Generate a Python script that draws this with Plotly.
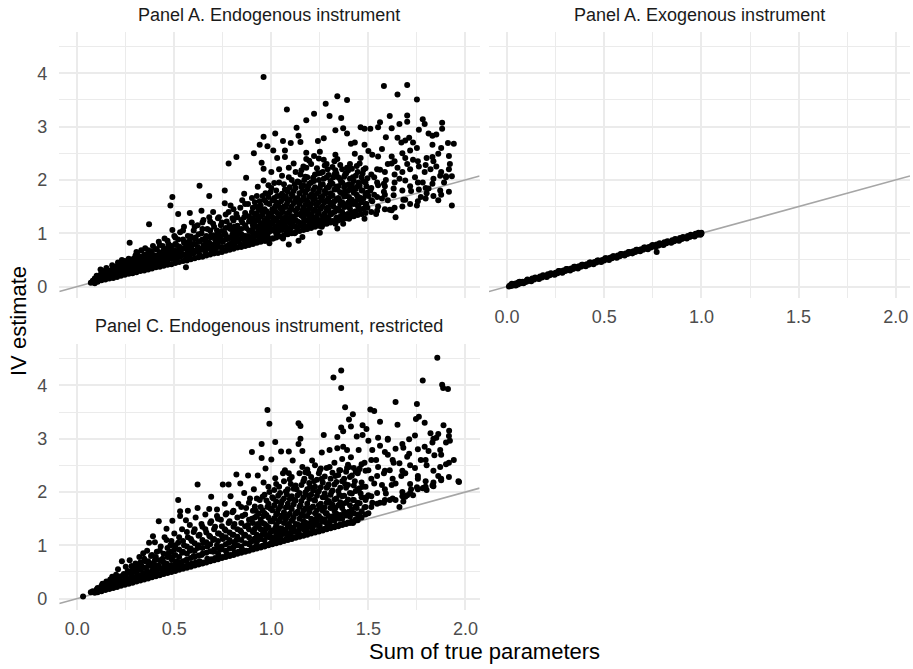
import plotly.graph_objects as go

# ---------------- data ----------------
# individually readable points
endo_pts = [
    (0.07,0.07),(0.08,0.11),(0.09,0.06),(0.09,0.15),(0.10,0.20),(0.10,0.10),(0.12,0.32),
    (0.11,0.14),(0.12,0.22),(0.13,0.18),(0.14,0.27),(0.15,0.20),(0.15,0.35),(0.16,0.24),(0.17,0.30),
    (0.17,0.19),(0.18,0.22),(0.18,0.40),(0.19,0.28),(0.19,0.25),(0.20,0.33),
    (0.21,0.24),(0.21,0.45),(0.22,0.30),(0.22,0.38),(0.23,0.27),(0.23,0.50),(0.24,0.34),(0.24,0.42),
    (0.25,0.29),(0.25,0.37),(0.26,0.31),(0.26,0.47),(0.27,0.82),(0.27,0.36),(0.28,0.40),(0.28,0.33),
    (0.29,0.52),(0.29,0.44),(0.30,0.36),(0.30,0.58),
    (0.31,0.35),(0.31,0.62),(0.32,0.42),(0.32,0.50),(0.33,0.38),(0.33,0.68),(0.34,0.45),(0.34,0.55),
    (0.35,0.40),(0.35,0.72),(0.36,0.48),(0.36,0.60),(0.37,1.17),(0.37,0.43),(0.37,0.52),(0.38,0.66),
    (0.38,0.47),(0.39,0.58),(0.39,0.76),(0.40,0.45),(0.40,0.53),
    (0.41,0.48),(0.41,0.70),(0.42,0.56),(0.42,0.84),(0.43,0.43),(0.43,0.62),(0.44,0.51),(0.44,0.76),
    (0.45,0.58),(0.45,0.90),(0.46,0.47),(0.46,0.66),(0.47,0.55),(0.47,0.80),(0.48,1.52),(0.48,0.62),
    (0.48,0.72),(0.49,1.68),(0.49,1.06),(0.49,0.52),(0.50,0.68),(0.50,0.95),(0.50,0.58),
    (0.51,0.50),(0.51,0.78),(0.52,1.36),(0.52,0.64),(0.52,0.88),(0.53,0.56),(0.53,1.02),(0.54,0.70),
    (0.54,0.60),(0.55,0.82),(0.55,1.12),(0.56,0.36),(0.56,0.53),(0.56,0.74),(0.57,0.95),(0.57,0.64),
    (0.58,1.38),(0.58,0.58),(0.58,0.86),(0.59,1.20),(0.59,0.70),(0.60,0.62),(0.60,0.80),(0.60,1.05),
    (0.61,0.66),(0.61,0.92),(0.62,0.74),(0.62,1.15),(0.63,0.60),(0.63,1.89),(0.63,0.85),(0.64,1.42),
    (0.64,0.70),(0.64,1.00),(0.65,0.78),(0.65,1.25),(0.66,0.64),(0.66,0.90),(0.67,0.72),(0.67,1.08),
    (0.68,1.70),(0.68,0.82),(0.68,1.30),(0.69,0.68),(0.69,0.96),(0.70,0.76),(0.70,1.18),(0.70,1.40),
    (0.71,0.70),(0.71,0.88),(0.72,1.05),(0.72,0.80),(0.73,1.30),(0.73,0.74),(0.74,0.94),(0.74,1.15),
    (0.75,0.68),(0.75,0.84),(0.76,1.80),(0.76,1.56),(0.76,1.00),(0.77,0.76),(0.77,1.22),(0.78,2.31),
    (0.78,0.90),(0.78,1.40),(0.79,1.52),(0.79,0.72),(0.79,1.08),(0.80,0.82),(0.80,0.98),(0.80,1.28),
    (0.81,0.78),(0.81,1.12),(0.82,2.43),(0.82,0.92),(0.82,1.36),(0.83,0.84),(0.83,1.05),(0.84,1.48),
    (0.84,0.80),(0.85,1.62),(0.85,0.96),(0.85,1.20),(0.86,1.74),(0.86,0.88),(0.86,1.30),(0.87,2.04),
    (0.87,0.78),(0.87,1.10),(0.88,1.55),(0.88,0.95),(0.89,1.25),(0.89,0.85),(0.90,1.40),(0.90,1.02),
    (0.90,1.66),
    (0.91,2.50),(0.91,0.88),(0.91,1.18),(0.92,1.50),(0.92,1.00),(0.93,1.87),(0.93,0.84),(0.93,1.32),
    (0.94,2.66),(0.94,1.10),(0.94,1.60),(0.95,2.32),(0.95,0.92),(0.95,1.42),(0.96,3.93),(0.96,2.81),
    (0.96,2.21),(0.96,1.99),(0.96,1.20),(0.97,0.86),(0.97,1.75),(0.97,1.05),(0.98,2.63),(0.98,1.28),
    (0.98,0.95),(0.99,1.55),(0.99,0.81),(0.99,1.12),(1.00,2.15),(1.00,1.38),(1.00,1.85),
    (1.01,2.55),(1.01,0.90),(1.01,1.22),(1.02,2.87),(1.02,1.50),(1.02,1.05),(1.03,2.41),(1.03,1.70),
    (1.03,0.96),(1.04,2.20),(1.04,1.32),(1.04,1.95),(1.05,1.12),(1.05,1.60),(1.06,2.73),(1.06,0.90),
    (1.06,1.40),(1.07,2.55),(1.07,2.43),(1.07,1.18),(1.07,1.82),(1.08,3.32),(1.08,1.02),(1.08,1.55),
    (1.09,2.23),(1.09,0.79),(1.09,1.28),(1.09,2.05),(1.10,2.69),(1.10,1.45),(1.10,1.10),
    (1.11,1.70),(1.11,1.20),(1.12,1.92),(1.12,1.00),(1.13,2.98),(1.13,1.35),(1.14,2.83),(1.14,0.86),
    (1.14,1.58),(1.15,2.71),(1.15,1.15),(1.15,2.10),(1.16,0.93),(1.16,1.42),(1.16,1.80),(1.17,1.25),
    (1.17,2.00),(1.18,3.12),(1.18,2.51),(1.18,2.39),(1.18,2.23),(1.18,1.08),(1.18,1.62),(1.19,1.35),
    (1.19,1.88),(1.20,1.15),(1.20,1.50),
    (1.21,1.72),(1.21,1.30),(1.22,3.24),(1.22,2.45),(1.22,1.98),(1.23,1.18),(1.23,1.55),(1.24,2.73),
    (1.24,1.40),(1.24,2.12),(1.25,2.53),(1.25,1.01),(1.25,1.85),(1.26,1.12),(1.26,1.62),(1.27,2.78),
    (1.27,2.38),(1.27,1.30),(1.27,2.02),(1.28,3.43),(1.28,1.24),(1.28,1.75),(1.29,1.48),(1.29,2.20),
    (1.30,3.20),(1.30,1.90),(1.30,1.58),
    (1.31,1.37),(1.31,1.70),(1.32,2.05),(1.32,1.50),(1.33,2.93),(1.33,2.47),(1.33,2.18),(1.33,1.18),
    (1.34,3.57),(1.34,2.39),(1.34,1.09),(1.34,1.82),(1.35,1.42),(1.35,1.62),(1.36,3.16),(1.36,1.95),
    (1.37,2.97),(1.37,1.18),(1.37,1.55),(1.38,1.78),(1.38,2.10),(1.39,3.50),(1.39,2.87),(1.39,2.23),
    (1.39,1.35),(1.40,1.27),(1.40,1.68),(1.40,1.92),
    (1.41,2.68),(1.41,1.55),(1.42,1.85),(1.42,2.05),(1.43,2.70),(1.43,2.49),(1.43,1.40),(1.44,2.26),
    (1.44,1.72),(1.45,1.49),(1.45,1.95),(1.46,2.99),(1.46,2.41),(1.46,1.62),(1.47,1.80),(1.47,2.12),
    (1.48,2.96),(1.48,2.66),(1.48,1.27),(1.49,1.55),(1.49,1.88),(1.50,2.54),(1.50,1.70),
    (1.51,2.96),(1.51,1.80),(1.52,1.60),(1.52,2.47),(1.53,2.05),(1.53,1.72),(1.54,1.36),(1.55,2.44),
    (1.55,2.99),(1.55,1.90),(1.55,1.50),(1.56,3.08),(1.56,2.19),(1.57,2.58),(1.57,1.65),(1.58,3.76),
    (1.58,1.93),(1.58,1.78),(1.59,2.80),(1.59,2.00),(1.60,1.62),(1.60,2.30),
    (1.61,3.20),(1.61,1.44),(1.62,2.31),(1.62,2.97),(1.62,2.44),(1.62,1.43),(1.63,1.84),(1.63,1.71),
    (1.64,1.30),(1.65,3.60),(1.65,2.23),(1.65,2.79),(1.66,3.05),(1.66,2.02),(1.67,2.70),(1.68,1.63),
    (1.69,2.74),(1.69,2.41),(1.69,1.99),(1.69,1.63),(1.70,3.78),(1.70,3.21),(1.70,3.09),(1.70,2.30),
    (1.71,2.79),(1.72,1.79),(1.73,2.70),(1.73,2.38),(1.74,2.05),(1.75,3.51),(1.75,2.60),(1.75,1.52),
    (1.76,2.94),(1.76,2.25),(1.76,1.82),(1.77,1.68),(1.78,3.14),(1.78,1.95),(1.79,3.05),(1.79,2.15),
    (1.80,2.41),(1.80,1.75),
    (1.81,2.87),(1.81,1.84),(1.82,2.20),(1.83,2.83),(1.83,2.66),(1.83,2.43),(1.83,1.93),(1.85,2.85),
    (1.85,2.25),(1.86,2.49),(1.86,1.62),(1.87,1.80),(1.87,2.08),(1.88,3.07),(1.88,2.96),(1.89,1.95),
    (1.90,2.07),(1.90,2.05),
    (1.91,2.69),(1.92,2.30),(1.93,2.07),(1.93,1.52),(1.94,2.68),
]

# estimated points inside the solid-looking band: x -> list of y
endo_band = {
    0.105: [0.09,0.14,0.19], 0.125: [0.12,0.16,0.25], 0.145: [0.13,0.18,0.23,0.30],
    0.165: [0.15,0.21,0.27], 0.185: [0.16,0.24,0.31,0.36], 0.205: [0.18,0.27,0.22,0.38],
    0.225: [0.20,0.25,0.33,0.43], 0.245: [0.22,0.28,0.36,0.48], 0.265: [0.24,0.31,0.40,0.52],
    0.285: [0.25,0.30,0.37,0.46], 0.305: [0.27,0.33,0.41,0.51,0.65], 0.325: [0.29,0.36,0.45,0.56],
    0.345: [0.30,0.38,0.47,0.60], 0.365: [0.32,0.40,0.50,0.57,0.68], 0.385: [0.34,0.42,0.53,0.62],
    0.405: [0.36,0.44,0.49,0.58,0.70], 0.425: [0.37,0.46,0.53,0.64,0.78], 0.445: [0.39,0.47,0.56,0.68],
    0.465: [0.41,0.50,0.60,0.72,0.86], 0.485: [0.42,0.52,0.63,0.76], 0.505: [0.44,0.55,0.66,0.80,0.92],
    0.525: [0.46,0.57,0.69,0.75], 0.545: [0.48,0.60,0.72,0.88,1.05], 0.565: [0.49,0.62,0.70,0.83],
    0.585: [0.51,0.64,0.77,0.94], 0.605: [0.53,0.67,0.80,0.90,1.12], 0.625: [0.55,0.69,0.84,0.98],
    0.645: [0.56,0.72,0.88,1.08,1.20], 0.665: [0.58,0.74,0.82,0.95], 0.685: [0.60,0.77,0.92,1.05,1.22],
    0.705: [0.62,0.79,0.96,1.12], 0.725: [0.63,0.82,0.90,1.00,1.28], 0.745: [0.65,0.74,0.86,1.04,1.20],
    0.765: [0.67,0.88,0.96,1.10,1.35], 0.785: [0.69,0.80,0.92,1.15], 0.805: [0.71,0.88,0.95,1.04,1.24,1.45],
    0.825: [0.73,0.86,1.00,1.14,1.30], 0.845: [0.74,0.90,0.98,1.08,1.25], 0.865: [0.76,0.84,0.95,1.15,1.38,1.55],
    0.885: [0.78,0.90,1.05,1.22,1.32], 0.905: [0.80,0.94,1.08,1.15,1.28,1.48],
    0.925: [0.82,0.97,1.12,1.24,1.38,1.70], 0.945: [0.84,1.00,1.06,1.18,1.32,1.52],
    0.965: [0.86,0.96,1.10,1.25,1.45,1.62], 0.985: [0.88,1.02,1.15,1.22,1.35,1.68,1.90],
    1.005: [0.90,1.06,1.18,1.30,1.45,1.62], 1.025: [0.92,1.00,1.12,1.25,1.40,1.58,1.80],
    1.045: [0.94,1.08,1.20,1.35,1.48,1.70], 1.065: [0.96,1.14,1.28,1.50,1.65,1.92],
    1.085: [0.98,1.10,1.22,1.38,1.60,1.78], 1.105: [1.00,1.16,1.32,1.50,1.72,2.00],
    1.125: [1.02,1.12,1.25,1.42,1.62,1.85,2.15], 1.145: [1.04,1.20,1.36,1.55,1.75,1.95],
    1.165: [1.06,1.18,1.30,1.48,1.68,1.90,2.25], 1.185: [1.08,1.24,1.42,1.60,1.82,2.05],
    1.205: [1.10,1.22,1.35,1.55,1.72,1.95,2.30], 1.225: [1.12,1.28,1.45,1.65,1.86,2.10],
    1.245: [1.14,1.25,1.38,1.58,1.78,2.00,2.40], 1.265: [1.16,1.32,1.50,1.70,1.92,2.15],
    1.285: [1.18,1.30,1.42,1.62,1.85,2.05,2.30], 1.305: [1.20,1.35,1.55,1.75,1.98],
    1.325: [1.22,1.40,1.60,1.82,2.10,2.35], 1.345: [1.24,1.45,1.66,1.88,2.05],
    1.365: [1.26,1.40,1.58,1.75,1.95,2.20], 1.385: [1.28,1.50,1.70,1.90,2.12],
    1.405: [1.30,1.46,1.62,1.82,2.02,2.30], 1.425: [1.32,1.55,1.76,1.98],
    1.445: [1.34,1.52,1.68,1.88,2.15], 1.465: [1.36,1.58,1.80,2.05], 1.485: [1.38,1.55,1.72,1.95,2.22],
    1.515: [1.40,1.62,1.85,2.10], 1.545: [1.42,1.68,1.95,2.20], 1.585: [1.45,1.72,1.88,2.15],
    1.635: [1.48,1.95,2.10,2.35], 1.675: [1.50,1.80,2.15,2.50], 1.715: [1.55,1.88,2.20,2.55],
    1.755: [1.60,1.95,2.35], 1.795: [1.65,1.85,2.28], 1.835: [1.70,2.02,2.35],
    1.875: [1.72,2.15,2.60], 1.915: [1.78,2.20,2.45],
}

# more estimated points in the darkest part of the cloud (x about 0.9 to 1.5)
endo_core = {
    0.915: [0.98,1.21,1.36,1.58], 0.935: [0.93,1.07,1.27,1.46], 0.955: [1.02,1.16,1.34,1.70],
    0.975: [0.97,1.13,1.41,1.57], 0.995: [1.04,1.19,1.33,1.77], 1.015: [1.09,1.28,1.47,1.66,1.94],
    1.035: [1.03,1.17,1.36,1.53], 1.055: [1.06,1.24,1.43,1.74,2.08], 1.075: [1.11,1.31,1.49,1.69],
    1.095: [1.05,1.19,1.41,1.63,1.86], 1.115: [1.13,1.27,1.56,1.79,2.31], 1.135: [1.09,1.22,1.47,1.66,1.97],
    1.155: [1.14,1.33,1.61,1.87,2.18], 1.175: [1.12,1.38,1.53,1.76,2.06],
    1.195: [1.17,1.29,1.47,1.69,1.93,2.36], 1.215: [1.19,1.41,1.63,1.81,2.04],
    1.235: [1.16,1.33,1.52,1.74,2.22], 1.255: [1.22,1.46,1.67,1.91,2.13],
    1.275: [1.21,1.37,1.58,1.79,2.27], 1.295: [1.26,1.43,1.66,1.86,2.09],
    1.315: [1.23,1.52,1.71,1.93,2.24], 1.335: [1.29,1.46,1.64,1.87,2.12],
    1.355: [1.31,1.53,1.77,2.01,2.28], 1.375: [1.34,1.49,1.69,1.86,2.06],
    1.395: [1.36,1.57,1.79,2.17], 1.415: [1.39,1.63,1.91,2.21], 1.435: [1.41,1.59,1.83,2.08],
    1.455: [1.44,1.67,1.89,2.31], 1.475: [1.46,1.65,1.97,2.19], 1.495: [1.48,1.76,2.03],
}

exo_pts = [
    (0.01,0.00),(0.015,0.02),(0.02,0.03),(0.02,0.01),(0.03,0.02),(0.04,0.05),(0.04,0.03),(0.05,0.06),
    (0.055,0.04),(0.06,0.05),(0.06,0.08),(0.07,0.06),(0.08,0.09),(0.09,0.08),(0.10,0.11),(0.10,0.09),
    (0.11,0.12),(0.12,0.11),(0.13,0.15),(0.14,0.13),(0.15,0.16),(0.16,0.15),(0.17,0.19),(0.18,0.17),
    (0.19,0.20),(0.20,0.19),(0.21,0.23),(0.22,0.21),(0.23,0.24),(0.24,0.23),(0.25,0.26),(0.26,0.25),
    (0.27,0.29),(0.28,0.27),(0.29,0.30),(0.30,0.29),(0.31,0.33),(0.32,0.31),(0.33,0.34),(0.34,0.33),
    (0.35,0.37),(0.36,0.35),(0.37,0.38),(0.38,0.37),(0.39,0.41),(0.40,0.39),(0.41,0.42),(0.42,0.41),
    (0.43,0.45),(0.44,0.43),(0.45,0.46),(0.46,0.45),(0.47,0.49),(0.48,0.47),(0.49,0.50),(0.50,0.49),
    (0.51,0.53),(0.52,0.51),(0.53,0.54),(0.54,0.53),(0.55,0.57),(0.56,0.55),(0.57,0.58),(0.58,0.57),
    (0.59,0.61),(0.60,0.59),(0.61,0.62),(0.62,0.61),(0.63,0.65),(0.64,0.63),(0.65,0.66),(0.66,0.65),
    (0.67,0.69),(0.68,0.67),(0.69,0.70),(0.70,0.69),(0.71,0.73),(0.72,0.71),(0.73,0.74),(0.74,0.73),
    (0.75,0.78),(0.76,0.75),(0.77,0.65),(0.77,0.79),(0.78,0.77),(0.79,0.80),(0.80,0.79),(0.81,0.83),
    (0.82,0.81),(0.83,0.84),(0.84,0.83),(0.85,0.87),(0.86,0.85),(0.87,0.88),(0.88,0.87),(0.89,0.91),
    (0.90,0.89),(0.91,0.92),(0.92,0.91),(0.93,0.95),(0.94,0.93),(0.95,0.96),(0.96,0.95),(0.97,0.99),
    (0.98,0.97),(0.99,1.00),(1.00,0.99),(1.00,1.01),
    (0.025,0.05),(0.045,0.02),(0.065,0.09),(0.085,0.06),(0.105,0.13),(0.125,0.10),(0.145,0.17),
    (0.165,0.14),(0.185,0.21),(0.205,0.18),(0.225,0.25),(0.245,0.22),(0.265,0.29),(0.285,0.26),
    (0.305,0.33),(0.325,0.30),(0.345,0.37),(0.365,0.34),(0.385,0.41),(0.405,0.38),(0.425,0.45),
    (0.445,0.42),(0.465,0.49),(0.485,0.46),(0.505,0.53),(0.525,0.50),(0.545,0.57),(0.565,0.54),
    (0.585,0.61),(0.605,0.58),(0.625,0.65),(0.645,0.62),(0.665,0.69),(0.685,0.66),(0.705,0.73),
    (0.725,0.70),(0.745,0.77),(0.765,0.74),(0.785,0.81),(0.805,0.78),(0.825,0.85),(0.845,0.82),
    (0.865,0.89),(0.885,0.86),(0.905,0.93),(0.925,0.90),(0.945,0.97),(0.965,0.94),(0.985,1.01),
    (0.995,0.97),
]

restr_pts = [
    (0.03,0.04),(0.07,0.12),(0.08,0.14),(0.09,0.11),(0.10,0.17),(0.10,0.13),
    (0.11,0.16),(0.12,0.20),(0.13,0.28),(0.13,0.17),(0.14,0.24),(0.15,0.19),(0.15,0.32),(0.16,0.22),
    (0.17,0.36),(0.17,0.20),(0.18,0.41),(0.18,0.26),(0.19,0.22),(0.19,0.33),(0.20,0.28),(0.20,0.45),
    (0.21,0.55),(0.21,0.25),(0.22,0.36),(0.23,0.70),(0.23,0.28),(0.24,0.46),(0.24,0.32),(0.25,0.40),
    (0.25,0.60),(0.26,0.30),(0.26,0.52),(0.27,0.72),(0.27,0.36),(0.28,0.61),(0.28,0.44),(0.29,0.33),
    (0.29,0.50),(0.30,0.38),(0.30,0.66),
    (0.31,0.34),(0.31,0.55),(0.32,0.44),(0.32,0.78),(0.33,0.37),(0.33,0.62),(0.34,0.48),(0.34,0.85),
    (0.35,0.40),(0.35,0.70),(0.36,0.90),(0.36,0.52),(0.37,1.05),(0.37,0.42),(0.37,0.64),(0.38,0.80),
    (0.38,0.46),(0.39,1.17),(0.39,0.58),(0.40,1.06),(0.40,0.45),(0.40,0.72),
    (0.41,0.50),(0.41,0.88),(0.42,1.45),(0.42,0.62),(0.43,0.46),(0.43,0.98),(0.44,0.75),(0.44,0.55),
    (0.45,1.15),(0.45,0.50),(0.46,1.31),(0.46,1.10),(0.46,0.66),(0.47,0.85),(0.47,0.52),(0.48,1.00),
    (0.48,0.60),(0.49,1.46),(0.49,0.78),(0.50,0.55),(0.50,1.22),(0.50,0.92),
    (0.51,0.58),(0.51,0.70),(0.52,1.85),(0.52,1.05),(0.53,1.64),(0.53,1.55),(0.53,0.62),(0.54,0.86),
    (0.54,1.30),(0.55,0.60),(0.55,1.00),(0.56,1.47),(0.56,0.72),(0.57,1.65),(0.57,1.15),(0.57,0.64),
    (0.58,0.90),(0.58,1.38),(0.59,0.66),(0.59,1.08),(0.60,0.80),(0.60,1.25),
    (0.61,0.68),(0.61,1.52),(0.62,2.14),(0.62,1.70),(0.62,0.95),(0.63,0.70),(0.63,1.20),(0.64,1.40),
    (0.64,0.82),(0.65,1.05),(0.65,0.68),(0.66,1.58),(0.66,1.30),(0.67,0.75),(0.67,0.98),(0.68,1.68),
    (0.68,1.18),(0.69,1.91),(0.69,0.74),(0.69,1.45),(0.70,0.88),(0.70,1.10),
    (0.71,0.76),(0.71,1.35),(0.72,1.67),(0.72,1.00),(0.72,1.55),(0.73,0.80),(0.73,1.22),(0.74,1.48),
    (0.74,0.92),(0.75,2.14),(0.75,0.78),(0.75,1.12),(0.76,1.78),(0.76,1.30),(0.77,1.60),(0.77,0.84),
    (0.78,2.14),(0.78,1.05),(0.78,1.42),(0.79,0.82),(0.79,1.92),(0.80,1.20),(0.80,1.62),(0.80,0.95),
    (0.81,0.86),(0.81,1.40),(0.82,2.33),(0.82,1.10),(0.83,1.78),(0.83,0.88),(0.84,2.16),(0.84,1.28),
    (0.85,1.55),(0.85,0.92),(0.86,1.98),(0.86,1.18),(0.87,0.90),(0.87,1.70),(0.88,2.31),(0.88,1.38),
    (0.89,1.05),(0.89,1.88),(0.90,2.75),(0.90,0.95),(0.90,1.50),
    (0.91,1.25),(0.91,2.05),(0.92,0.98),(0.92,1.65),(0.93,2.31),(0.93,1.40),(0.94,1.12),(0.94,1.85),
    (0.95,2.90),(0.95,2.64),(0.95,0.98),(0.96,1.55),(0.96,2.18),(0.97,2.44),(0.97,1.30),(0.97,1.02),
    (0.98,3.54),(0.98,1.72),(0.99,3.28),(0.99,1.15),(0.99,2.00),(1.00,2.61),(1.00,1.45),(1.00,1.05),
    (1.01,1.08),(1.01,1.88),(1.02,2.94),(1.02,2.26),(1.02,1.32),(1.03,1.60),(1.03,1.12),(1.04,2.10),
    (1.04,1.45),(1.05,2.76),(1.05,1.18),(1.05,1.78),(1.06,2.35),(1.06,1.25),(1.07,2.41),(1.07,1.55),
    (1.08,1.96),(1.08,1.19),(1.09,2.76),(1.09,2.35),(1.09,1.40),(1.10,1.70),(1.10,1.22),(1.10,2.15),
    (1.11,2.59),(1.11,1.48),(1.12,1.85),(1.12,1.26),(1.13,2.05),(1.13,1.60),(1.14,3.29),(1.14,2.90),
    (1.14,1.25),(1.15,3.24),(1.15,3.00),(1.15,1.75),(1.16,2.77),(1.16,2.47),(1.16,1.35),(1.17,2.25),
    (1.17,1.55),(1.18,1.95),(1.18,1.30),(1.19,2.35),(1.19,1.68),(1.20,1.40),(1.20,2.10),
    (1.21,2.59),(1.21,1.32),(1.22,1.85),(1.22,2.20),(1.23,1.50),(1.23,1.38),(1.24,2.00),(1.25,2.41),
    (1.25,1.35),(1.25,1.72),(1.26,2.74),(1.26,2.25),(1.27,3.07),(1.27,1.45),(1.28,1.90),(1.28,1.60),
    (1.29,2.10),(1.29,1.38),(1.30,2.79),(1.30,2.47),(1.30,1.42),(1.30,1.80),
    (1.31,2.00),(1.32,4.15),(1.32,1.55),(1.33,2.30),(1.33,1.70),(1.34,3.03),(1.34,2.82),(1.35,2.41),
    (1.35,1.50),(1.35,1.95),(1.36,3.95),(1.36,4.28),(1.36,3.21),(1.37,2.85),(1.37,1.78),(1.37,3.14),
    (1.38,2.15),(1.38,1.60),(1.38,3.59),(1.39,2.79),(1.39,2.45),(1.40,3.36),(1.40,1.63),(1.40,2.47),
    (1.41,2.65),(1.41,3.23),(1.42,3.46),(1.42,1.85),(1.42,1.42),(1.43,2.20),(1.44,3.04),(1.44,1.70),
    (1.45,2.79),(1.45,2.41),(1.45,1.53),(1.46,1.97),(1.47,3.25),(1.47,3.07),(1.47,2.10),(1.48,1.71),
    (1.48,2.55),(1.49,3.18),(1.49,1.90),(1.50,2.96),(1.50,1.94),(1.50,1.60),(1.50,2.41),
    (1.51,3.55),(1.52,2.79),(1.52,1.80),(1.53,3.52),(1.53,2.16),(1.54,2.60),(1.55,3.02),(1.55,2.47),
    (1.56,3.32),(1.56,2.87),(1.56,1.80),(1.57,2.13),(1.58,1.80),(1.58,2.35),(1.59,1.97),(1.60,3.00),
    (1.60,2.98),(1.60,2.70),
    (1.61,2.41),(1.61,1.85),(1.62,2.13),(1.63,2.55),(1.64,3.69),(1.64,2.81),(1.64,2.16),(1.64,1.85),
    (1.65,3.26),(1.66,2.54),(1.66,1.72),(1.67,2.30),(1.68,2.83),(1.68,1.82),(1.69,2.35),(1.69,1.91),
    (1.70,2.66),(1.70,1.94),(1.71,2.72),(1.71,2.99),
    (1.72,2.05),(1.73,1.94),(1.74,3.06),(1.74,2.45),(1.745,3.37),(1.75,3.65),(1.75,2.09),(1.755,2.25),
    (1.76,3.41),(1.77,2.60),(1.78,4.09),(1.78,2.07),(1.785,2.08),(1.79,3.30),(1.79,2.85),(1.80,2.04),
    (1.80,2.50),
    (1.81,2.77),(1.82,3.10),(1.83,2.93),(1.83,2.12),(1.835,2.11),(1.84,2.69),(1.85,3.02),(1.855,4.52),
    (1.86,3.09),(1.86,2.30),(1.87,2.79),(1.87,2.47),(1.88,4.01),(1.885,3.95),(1.887,3.25),(1.90,2.93),
    (1.90,2.52),
    (1.91,3.93),(1.916,3.15),(1.92,2.96),(1.94,2.60),(1.964,2.20),(1.967,2.19),
]

restr_band = {
    0.105: [0.12,0.15,0.20], 0.125: [0.14,0.18,0.24], 0.145: [0.16,0.21,0.27], 0.165: [0.18,0.23,0.30],
    0.185: [0.20,0.26,0.34], 0.205: [0.22,0.29,0.38], 0.225: [0.24,0.31,0.42], 0.245: [0.26,0.34,0.45],
    0.265: [0.28,0.37,0.48], 0.285: [0.30,0.39,0.52,0.58], 0.305: [0.32,0.41,0.50,0.62],
    0.325: [0.34,0.44,0.55,0.68], 0.345: [0.36,0.46,0.58,0.75], 0.365: [0.38,0.48,0.61,0.70],
    0.385: [0.40,0.51,0.66,0.82], 0.405: [0.42,0.54,0.62,0.78], 0.425: [0.44,0.56,0.72,0.90],
    0.445: [0.46,0.58,0.68,0.84], 0.465: [0.48,0.60,0.78,0.95], 0.485: [0.50,0.63,0.74,0.88,1.08],
    0.505: [0.52,0.66,0.82,1.00], 0.525: [0.54,0.68,0.78,0.92,1.15], 0.545: [0.56,0.70,0.88,1.08],
    0.565: [0.58,0.73,0.84,0.98,1.25], 0.585: [0.60,0.76,0.94,1.12], 0.605: [0.62,0.78,0.90,1.04,1.30],
    0.625: [0.64,0.81,1.00,1.18], 0.645: [0.66,0.84,0.95,1.10,1.35], 0.665: [0.68,0.86,1.06,1.24],
    0.685: [0.70,0.89,1.02,1.16,1.42], 0.705: [0.72,0.92,1.12,1.30],
    0.725: [0.74,0.85,0.95,1.08,1.22,1.50], 0.745: [0.76,0.98,1.18,1.36],
    0.765: [0.78,0.90,1.02,1.15,1.28,1.58], 0.785: [0.80,0.94,1.10,1.24,1.45],
    0.805: [0.82,0.96,1.06,1.20,1.35,1.65], 0.825: [0.84,1.00,1.16,1.30,1.52],
    0.845: [0.86,0.98,1.10,1.25,1.42,1.72], 0.865: [0.88,1.04,1.20,1.36,1.58],
    0.885: [0.90,1.02,1.15,1.30,1.48,1.80], 0.905: [0.92,1.08,1.25,1.42,1.65],
    0.925: [0.94,1.06,1.20,1.35,1.55,1.88], 0.945: [0.96,1.12,1.30,1.48,1.72],
    0.965: [0.98,1.10,1.24,1.40,1.60,1.95], 0.985: [1.00,1.16,1.34,1.52,1.78,2.10],
    1.005: [1.02,1.14,1.28,1.45,1.66,1.90], 1.025: [1.04,1.20,1.38,1.58,1.82,2.15],
    1.045: [1.06,1.18,1.32,1.50,1.72,1.98], 1.065: [1.08,1.24,1.42,1.62,1.88,2.20],
    1.085: [1.10,1.22,1.36,1.55,1.78,2.05], 1.105: [1.12,1.28,1.46,1.68,1.92,2.28],
    1.125: [1.14,1.26,1.40,1.60,1.84,2.12], 1.145: [1.16,1.32,1.50,1.72,1.98,2.35],
    1.165: [1.18,1.30,1.45,1.65,1.90,2.20], 1.185: [1.20,1.36,1.55,1.78,2.05,2.42],
    1.205: [1.22,1.34,1.50,1.70,1.95,2.28], 1.225: [1.24,1.40,1.60,1.84,2.10,2.50],
    1.245: [1.26,1.38,1.55,1.75,2.02,2.35], 1.265: [1.28,1.44,1.65,1.90,2.18],
    1.285: [1.30,1.42,1.60,1.80,2.08,2.45], 1.305: [1.32,1.48,1.70,1.95,2.25],
    1.325: [1.34,1.46,1.65,1.86,2.14,2.55], 1.345: [1.36,1.52,1.75,2.02,2.32],
    1.365: [1.38,1.50,1.70,1.92,2.20,2.62], 1.385: [1.40,1.56,1.80,2.08,2.38],
    1.405: [1.42,1.54,1.75,1.98,2.28], 1.425: [1.44,1.60,1.85,2.12,2.45],
    1.445: [1.47,1.58,1.80,2.05,2.35], 1.465: [1.52,1.64,1.90,2.18,2.52],
    1.485: [1.58,1.72,1.85,2.10,2.40], 1.515: [1.72,1.92,2.25,2.60], 1.545: [1.78,1.98,2.30],
    1.585: [1.85,2.05,2.40,2.75], 1.625: [1.88,2.25,2.60], 1.675: [1.92,2.00,2.40,2.90],
    1.715: [1.98,2.15,2.50], 1.755: [2.05,2.30,2.80], 1.795: [2.10,2.20,2.60],
    1.835: [2.18,2.40,3.00], 1.875: [2.22,2.25,2.70], 1.915: [2.28,2.55,3.05],
}

restr_core = {
    0.915: [0.95,1.13,1.31,1.52,1.73], 0.935: [0.97,1.17,1.36,1.59], 0.955: [0.99,1.21,1.42,1.66,1.91],
    0.975: [1.01,1.19,1.37,1.57,1.84], 0.995: [1.03,1.24,1.46,1.69],
    1.015: [1.05,1.27,1.51,1.75,2.04], 1.035: [1.07,1.25,1.44,1.67,1.93], 1.055: [1.09,1.31,1.56,1.83],
    1.075: [1.11,1.29,1.49,1.71,2.01], 1.095: [1.13,1.35,1.59,1.87,2.24],
    1.115: [1.15,1.33,1.53,1.77,2.06], 1.135: [1.17,1.39,1.63,1.94],
    1.155: [1.19,1.37,1.58,1.83,2.13], 1.175: [1.21,1.43,1.69,1.99,2.37],
    1.195: [1.23,1.41,1.62,1.87,2.17], 1.215: [1.25,1.47,1.73,2.03],
    1.235: [1.27,1.45,1.66,1.93,2.23], 1.255: [1.29,1.51,1.78,2.09,2.44],
    1.275: [1.31,1.49,1.71,1.97,2.29], 1.295: [1.33,1.55,1.83,2.14],
    1.315: [1.35,1.53,1.76,2.03,2.36], 1.335: [1.37,1.59,1.88,2.19],
    1.355: [1.39,1.57,1.81,2.08,2.41], 1.375: [1.41,1.63,1.93,2.25],
    1.395: [1.43,1.61,1.86,2.13,2.51], 1.415: [1.45,1.67,1.97,2.31],
    1.435: [1.49,1.73,2.02,2.38], 1.455: [1.56,1.79,2.07,2.44],
}

panel_titles = ["Panel A. Endogenous instrument", "Panel A. Exogenous instrument",
                "Panel C. Endogenous instrument, restricted"]
x_ticks = [0.0, 0.5, 1.0, 1.5, 2.0]
x_tick_labels = ["0.0", "0.5", "1.0", "1.5", "2.0"]
y_ticks = [0, 1, 2, 3, 4]
y_tick_labels = ["0", "1", "2", "3", "4"]
x_title = "Sum of true parameters"
y_title = "IV estimate"


def collect(pts, *bands):
    xs = [p[0] for p in pts]
    ys = [p[1] for p in pts]
    for band in bands:
        for bx, bys in band.items():
            for by in bys:
                xs.append(bx)
                ys.append(by)
    return xs, ys


# ---------------- figure ----------------
X_RANGE = [-0.0925, 2.073]
Y_RANGE = [-0.215, 4.78]
FONT = "Liberation Sans, Arial, Helvetica, sans-serif"
GRID = "#EBEBEB"
TICK_FONT = dict(family=FONT, size=18, color="#4D4D4D")

fig = go.Figure()
panels = [(collect(endo_pts, endo_band, endo_core), "x", "y"),
          (collect(exo_pts), "x2", "y2"),
          (collect(restr_pts, restr_band, restr_core), "x3", "y3")]
for (xs, ys), xa, ya in panels:
    fig.add_trace(go.Scatter(x=X_RANGE, y=X_RANGE, mode="lines", xaxis=xa, yaxis=ya,
                             line=dict(color="#A6A6A6", width=1.6), hoverinfo="skip",
                             showlegend=False))
    fig.add_trace(go.Scatter(x=xs, y=ys, mode="markers", xaxis=xa, yaxis=ya, showlegend=False,
                             marker=dict(color="black", size=6, line=dict(width=0))))

W, H = 913, 669
xd_left = [59.3 / W, 479.6 / W]
xd_right = [489.0 / W, 910.0 / W]
yd_top = [1 - 298.0 / H, 1 - 31.7 / H]
yd_bot = [1 - 610.1 / H, 1 - 343.8 / H]


def xax(domain, anchor, show):
    return dict(domain=domain, anchor=anchor, range=X_RANGE, tickvals=x_ticks,
                ticktext=x_tick_labels, showticklabels=show, showgrid=True, gridcolor=GRID,
                gridwidth=1.6, zeroline=False, showline=False, ticks="",
                tickfont=TICK_FONT, ticklabelstandoff=6,
                minor=dict(tickvals=[0.25, 0.75, 1.25, 1.75], showgrid=True, gridcolor=GRID,
                           gridwidth=0.8, ticks=""))


def yax(domain, anchor, show):
    return dict(domain=domain, anchor=anchor, range=Y_RANGE, tickvals=y_ticks,
                ticktext=y_tick_labels, showticklabels=show, showgrid=True, gridcolor=GRID,
                gridwidth=1.6, zeroline=False, showline=False, ticks="",
                tickfont=TICK_FONT, ticklabelstandoff=11,
                minor=dict(tickvals=[0.5, 1.5, 2.5, 3.5, 4.5], showgrid=True, gridcolor=GRID,
                           gridwidth=0.8, ticks=""))


fig.update_layout(
    width=W, height=H, margin=dict(l=0, r=0, t=0, b=0),
    paper_bgcolor="white", plot_bgcolor="white",
    xaxis=xax(xd_left, "y", False), yaxis=yax(yd_top, "x", True),
    xaxis2=xax(xd_right, "y2", True), yaxis2=yax(yd_top, "x2", False),
    xaxis3=xax(xd_left, "y3", True), yaxis3=yax(yd_bot, "x3", True),
)

ann_font = dict(family=FONT, size=18, color="#1A1A1A")
left_c = (59.3 + 479.6) / 2 / W
right_c = (489 + 910) / 2 / W
for text, xc, yc in [(panel_titles[0], left_c, 15), (panel_titles[1], right_c, 15),
                     (panel_titles[2], left_c, 326)]:
    fig.add_annotation(text=text, x=xc, y=1 - yc / H, xref="paper", yref="paper",
                       showarrow=False, font=ann_font, xanchor="center", yanchor="middle")
fig.add_annotation(text=y_title, x=18 / W, y=1 - 321 / H, xref="paper", yref="paper",
                   showarrow=False, textangle=-90, xanchor="center", yanchor="middle",
                   font=dict(family=FONT, size=22, color="black"))
fig.add_annotation(text=x_title, x=484.5 / W, y=1 - 651 / H, xref="paper", yref="paper",
                   showarrow=False, xanchor="center", yanchor="middle",
                   font=dict(family=FONT, size=22, color="black"))

fig.write_html("out.html")
